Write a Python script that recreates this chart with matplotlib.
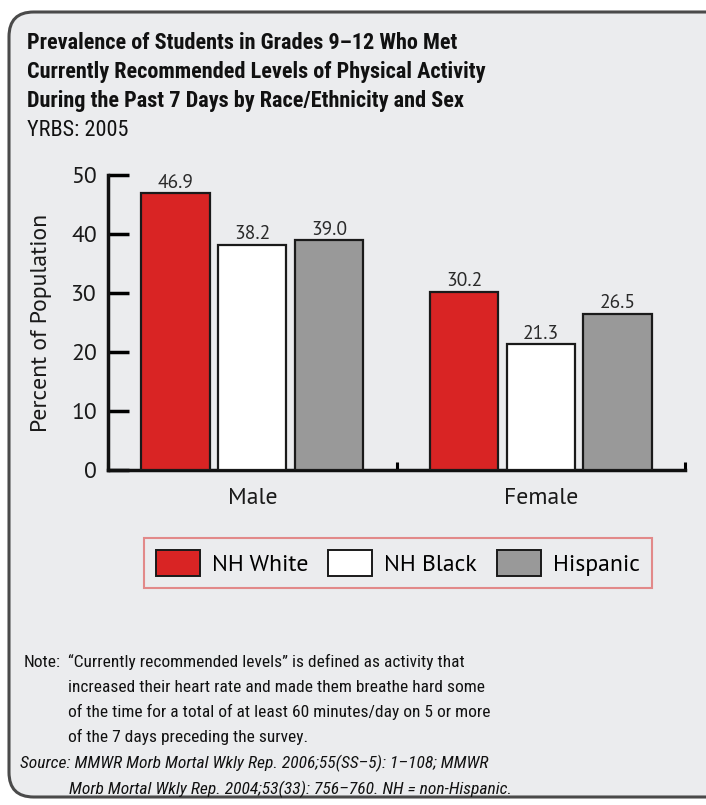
import matplotlib
matplotlib.use("Agg")
import matplotlib.pyplot as plt
from matplotlib.patches import FancyBboxPatch, Patch
import numpy as np

# Data
groups = ["Male", "Female"]
series = ["NH White", "NH Black", "Hispanic"]
values = {
    "NH White": [46.9, 30.2],
    "NH Black": [38.2, 21.3],
    "Hispanic": [39.0, 26.5],
}
yticks = [0, 10, 20, 30, 40, 50]

colors = {"NH White": "#d92424", "NH Black": "#ffffff", "Hispanic": "#999999"}
bg = "#ebecee"
label_font = ["PT Sans", "DejaVu Sans"]
text_font = ["Roboto Condensed", "DejaVu Sans"]

W, H = 706, 805
fig = plt.figure(figsize=(W / 100, H / 100), dpi=100)
fig.patch.set_facecolor("white")

# Rounded panel behind everything
panel = FancyBboxPatch((9 / W, 8 / H), (W + 30) / W, (H - 20) / H,
                       boxstyle="round,pad=0,rounding_size=0.035",
                       transform=fig.transFigure, facecolor=bg,
                       edgecolor="#4a4a4a", linewidth=2.2, zorder=-10,
                       mutation_aspect=W / H)
fig.patches.append(panel)

# Title block
title_lines = [
    "Prevalence of Students in Grades 9\u201312 Who Met",
    "Currently Recommended Levels of Physical Activity",
    "During the Past 7 Days by Race/Ethnicity and Sex",
]
for i, line in enumerate(title_lines):
    fig.text(27 / W, 1 - (43 + i * 29) / H, line, fontsize=16,
             fontweight="bold", family=text_font, color="#111111",
             va="center", ha="left")
fig.text(27 / W, 1 - 130 / H, "YRBS: 2005", fontsize=16, family=text_font,
         color="#111111", va="center", ha="left")

# Axes
ax = fig.add_axes([108 / W, 1 - 470 / H, (685 - 108) / W, (470 - 175) / H])
ax.set_facecolor("none")
n = len(series)
width = 0.236
step = 0.266
centers = np.arange(len(groups)) + 0.5
for i, s in enumerate(series):
    x = centers + (i - (n - 1) / 2) * step
    bars = ax.bar(x, values[s], width=width, color=colors[s],
                  edgecolor="#1a1a1a", linewidth=1.6, label=s, zorder=3)
    ax.bar_label(bars, labels=[f"{v:.1f}" for v in values[s]], padding=1,
                 fontsize=14, family=label_font, color="#2a2a2a")

ax.set_xlim(0, 2)
ax.set_ylim(0, 50)
ax.set_yticks(yticks)
ax.set_yticklabels([str(t) for t in yticks], fontsize=17, family=label_font,
                   color="#1a1a1a")
ax.tick_params(axis="y", direction="in", length=15, width=2.5, pad=8)
ax.set_xticks([0, 1, 2])
ax.set_xticklabels([])
ax.tick_params(axis="x", which="major", direction="in", length=6, width=2.2)
ax.set_xticks(centers, minor=True)
ax.set_xticklabels(groups, minor=True, fontsize=17, family=label_font,
                   color="#1a1a1a")
ax.tick_params(axis="x", which="minor", length=0, pad=13)
for side in ["top", "right"]:
    ax.spines[side].set_visible(False)
for side in ["left", "bottom"]:
    ax.spines[side].set_linewidth(2.5)
    ax.spines[side].set_color("#111111")
ax.set_ylabel("Percent of Population", fontsize=17, family=label_font,
              color="#1a1a1a", labelpad=14)

# Legend
handles = [Patch(facecolor=colors[s], edgecolor="#1a1a1a", linewidth=1.4,
                 label=s) for s in series]
leg = fig.legend(handles=handles, loc="center", ncol=3,
                 bbox_to_anchor=(398 / W, 1 - 563 / H), frameon=True,
                 fancybox=False, prop={"family": label_font, "size": 17},
                 handlelength=1.86, handleheight=1.35, handletextpad=0.52,
                 columnspacing=0.85, borderpad=0.5, borderaxespad=0)
leg.get_frame().set_edgecolor("#e07070")
leg.get_frame().set_linewidth(1.5)
leg.get_frame().set_facecolor(bg)

# Note
note_lines = [
    "\u201cCurrently recommended levels\u201d is defined as activity that",
    "increased their heart rate and made them breathe hard some",
    "of the time for a total of at least 60 minutes/day on 5 or more",
    "of the 7 days preceding the survey.",
]
fig.text(24 / W, 1 - 662 / H, "Note:", fontsize=12.5, family=text_font,
         color="#111111", va="center")
for i, line in enumerate(note_lines):
    fig.text(68 / W, 1 - (662 + i * 25) / H, line, fontsize=12.5,
             family=text_font, color="#111111", va="center")

src_lines = [
    ("Source: MMWR Morb Mortal Wkly Rep. 2006;55(SS\u20135): 1\u2013108; MMWR", 20),
    ("Morb Mortal Wkly Rep. 2004;53(33): 756\u2013760. NH = non-Hispanic.", 69),
]
for i, (line, x0) in enumerate(src_lines):
    fig.text(x0 / W, 1 - (763 + i * 26) / H, line, fontsize=12.6,
             family=text_font, style="italic", color="#111111", va="center")

fig.savefig("out.png", dpi=100, facecolor=fig.get_facecolor())
